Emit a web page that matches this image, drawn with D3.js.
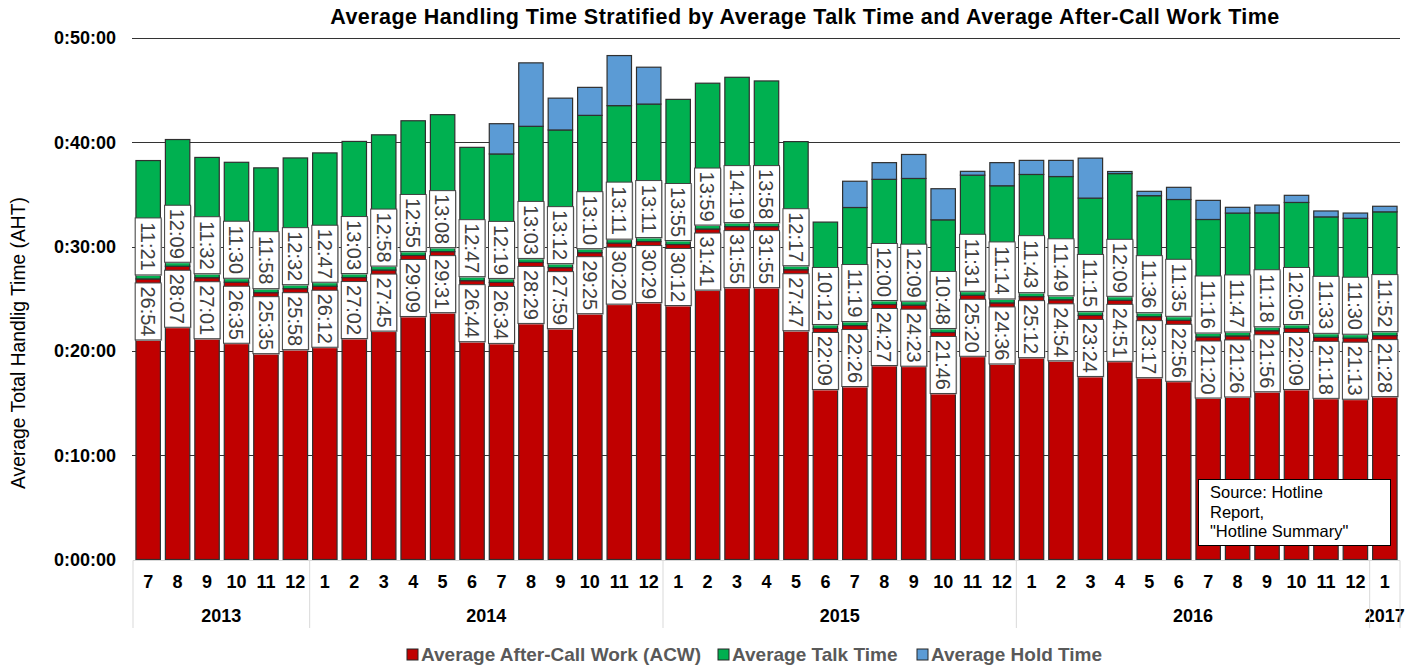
<!DOCTYPE html>
<html lang="en">
<head>
<meta charset="utf-8">
<title>Average Handling Time</title>
<script src="https://cdn.jsdelivr.net/npm/d3@7"></script>
<style>
  body { margin: 0; background: #fff; font-family: Arial, "Liberation Sans", sans-serif; }
</style>
</head>
<body>
<script>
// month labels, one per bar
var months = [7, 8, 9, 10, 11, 12,
  1, 2, 3, 4, 5, 6, 7, 8, 9, 10, 11, 12,
  1, 2, 3, 4, 5, 6, 7, 8, 9, 10, 11, 12,
  1, 2, 3, 4, 5, 6, 7, 8, 9, 10, 11, 12,
  1];
var yearLabels = ["2013", "2014", "2015", "2016", "2017"];
var monthsPerYear = [6, 12, 12, 12, 1];

// mm:ss values
var acw = ["26:54", "28:07", "27:01", "26:35", "25:35", "25:58",
  "26:12", "27:02", "27:45", "29:09", "29:31", "26:44", "26:34", "28:29", "27:59", "29:25", "30:20", "30:29",
  "30:12", "31:41", "31:55", "31:55", "27:47", "22:09", "22:26", "24:27", "24:23", "21:46", "25:20", "24:36",
  "25:12", "24:54", "23:24", "24:51", "23:17", "22:56", "21:20", "21:26", "21:56", "22:09", "21:18", "21:13",
  "21:28"];
var talk = ["11:21", "12:09", "11:32", "11:30", "11:58", "12:32",
  "12:47", "13:03", "12:58", "12:55", "13:08", "12:47", "12:19", "13:03", "13:12", "13:10", "13:11", "13:11",
  "13:55", "13:59", "14:19", "13:58", "12:17", "10:12", "11:19", "12:00", "12:09", "10:48", "11:31", "11:14",
  "11:43", "11:49", "11:15", "12:09", "11:36", "11:35", "11:16", "11:47", "11:18", "12:05", "11:33", "11:30",
  "11:52"];
// hold time is not labelled, estimated from bar tops
var hold = ["0:00", "0:00", "0:00", "0:00", "0:00", "0:00",
  "0:00", "0:00", "0:00", "0:00", "0:00", "0:00", "2:54", "6:05", "3:03", "2:41", "4:48", "3:32",
  "0:00", "0:00", "0:00", "0:00", "0:00", "0:00", "2:31", "1:36", "2:18", "2:59", "0:22", "2:13",
  "1:21", "1:33", "3:50", "0:12", "0:25", "1:10", "1:50", "0:33", "0:45", "0:41", "0:34", "0:30",
  "0:32"];

var seriesNames = ["Average After-Call Work (ACW)", "Average Talk Time", "Average Hold Time"];
var colors = ["#C00000", "#00B050", "#5B9BD5"];

function toMin(s) {
  var p = s.split(":");
  return +p[0] + (+p[1]) / 60;
}

var w = 1422, h = 668;
var plotL = 133, plotR = 1400, plotT = 38, plotB = 559.5;

var svg = d3.select("body").append("svg")
  .attr("width", w).attr("height", h);

var rows = months.map(function(m, i) {
  return { i: i, month: m, acw: toMin(acw[i]), talk: toMin(talk[i]), hold: toMin(hold[i]),
           acwLabel: acw[i], talkLabel: talk[i] };
});

var x = d3.scaleBand()
  .domain(d3.range(months.length))
  .range([plotL, plotR])
  .paddingInner(0.17)
  .paddingOuter(0.1);

var y = d3.scaleLinear().domain([0, 50]).range([plotB, plotT]);

// title
svg.append("text")
  .attr("x", 805).attr("y", 24)
  .attr("text-anchor", "middle")
  .style("font-weight", "bold").style("font-size", "21.5px")
  .style("letter-spacing", "0.45px")
  .text("Average Handling Time Stratified by Average Talk Time and Average After-Call Work Time");

// gridlines
svg.append("g").selectAll("line")
  .data(d3.range(10, 51, 10))
  .enter().append("line")
  .attr("x1", plotL - 1).attr("x2", plotR)
  .attr("y1", function(d) { return Math.round(y(d)) + 0.5; })
  .attr("y2", function(d) { return Math.round(y(d)) + 0.5; })
  .attr("stroke", "#333").attr("stroke-width", 1);

// y tick labels
svg.append("g").selectAll("text")
  .data(d3.range(0, 51, 10))
  .enter().append("text")
  .attr("x", 116).attr("y", function(d) { return y(d); })
  .attr("dy", "0.35em")
  .attr("text-anchor", "end")
  .style("font-weight", "bold").style("font-size", "18px")
  .text(function(d) { return "0:" + (d < 10 ? "0" + d : d) + ":00"; });

// y axis title
svg.append("text")
  .attr("transform", "translate(25,343) rotate(-90)")
  .attr("text-anchor", "middle")
  .style("font-size", "19.3px")
  .text("Average Total Handlig Time (AHT)");

// stacked segments
var stack = d3.stack().keys(["acw", "talk", "hold"])(rows);

svg.append("g").selectAll("g")
  .data(stack)
  .enter().append("g")
  .attr("fill", function(d, k) { return colors[k]; })
  .selectAll("rect")
  .data(function(d) { return d.filter(function(e) { return e[1] - e[0] > 0; }); })
  .enter().append("rect")
  .attr("x", function(d) { return x(d.data.i); })
  .attr("width", x.bandwidth())
  .attr("y", function(d) { return y(d[1]); })
  .attr("height", function(d) { return y(d[0]) - y(d[1]); })
  .attr("stroke", "#303030").attr("stroke-width", 1.2);

// category axis line
svg.append("line")
  .attr("x1", plotL).attr("x2", plotR)
  .attr("y1", plotB + 1).attr("y2", plotB + 1)
  .attr("stroke", "#d9d9d9");

// data label boxes
var boxW = 26, boxH = 57, gap = 4;
function addLabel(g, cx, yTop, txt) {
  g.append("rect")
    .attr("x", cx - boxW / 2 + 1).attr("y", yTop + 1)
    .attr("width", boxW).attr("height", boxH)
    .attr("fill", "#bfbfbf");
  g.append("rect")
    .attr("x", cx - boxW / 2).attr("y", yTop)
    .attr("width", boxW).attr("height", boxH)
    .attr("fill", "#fff").attr("stroke", "#404040").attr("stroke-width", 1);
  g.append("text")
    .attr("transform", "translate(" + cx + "," + (yTop + boxH / 2) + ") rotate(90)")
    .attr("text-anchor", "middle").attr("dy", "0.36em")
    .style("font-size", "20px").attr("fill", "#404040")
    .text(txt);
}
var labels = svg.append("g");
rows.forEach(function(d) {
  var cx = x(d.i) + x.bandwidth() / 2;
  var yb = y(d.acw);
  addLabel(labels, cx, yb + gap, d.acwLabel);
  addLabel(labels, cx, yb - gap - boxH, d.talkLabel);
});

// month labels
svg.append("g").selectAll("text")
  .data(rows)
  .enter().append("text")
  .attr("x", function(d) { return x(d.i) + x.bandwidth() / 2; })
  .attr("y", 588)
  .attr("text-anchor", "middle")
  .style("font-weight", "bold").style("font-size", "18px")
  .text(function(d) { return d.month; });

// year labels and separators
var start = 0;
var seps = [start];
yearLabels.forEach(function(yr, k) {
  var a = x.step() * start + plotL;
  var b = x.step() * (start + monthsPerYear[k]) + plotL;
  if (k === yearLabels.length - 1) b = plotR;
  svg.append("text")
    .attr("x", (a + b) / 2).attr("y", 622)
    .attr("text-anchor", "middle")
    .style("font-weight", "bold").style("font-size", "18px")
    .text(yr);
  start += monthsPerYear[k];
  seps.push(start);
});
svg.append("g").selectAll("line")
  .data(seps)
  .enter().append("line")
  .attr("x1", function(d, k) { return k === seps.length - 1 ? plotR : plotL + x.step() * d; })
  .attr("x2", function(d, k) { return k === seps.length - 1 ? plotR : plotL + x.step() * d; })
  .attr("y1", plotB + 1).attr("y2", 628)
  .attr("stroke", "#d9d9d9");

// source note
svg.append("rect")
  .attr("x", 1198.5).attr("y", 479.5)
  .attr("width", 192).attr("height", 66)
  .attr("fill", "#fff").attr("stroke", "#000");
svg.append("text")
  .attr("x", 1210).attr("y", 498)
  .style("font-size", "16.5px")
  .selectAll("tspan")
  .data(["Source: Hotline", "Report,", "\"Hotline Summary\""])
  .enter().append("tspan")
  .attr("x", 1210)
  .attr("dy", function(d, k) { return k ? 19.5 : 0; })
  .text(function(d) { return d; });

// legend
var legX = [407, 718, 917];
var leg = svg.append("g").selectAll("g")
  .data(seriesNames)
  .enter().append("g")
  .attr("transform", function(d, k) { return "translate(" + legX[k] + ",649)"; });
leg.append("rect")
  .attr("width", 11).attr("height", 11)
  .attr("fill", function(d, k) { return colors[k]; })
  .attr("stroke", "#262626");
leg.append("text")
  .attr("x", 14).attr("y", 11.5)
  .style("font-weight", "bold").style("font-size", "19px")
  .attr("fill", "#595959")
  .text(function(d) { return d; });
</script>
</body>
</html>
